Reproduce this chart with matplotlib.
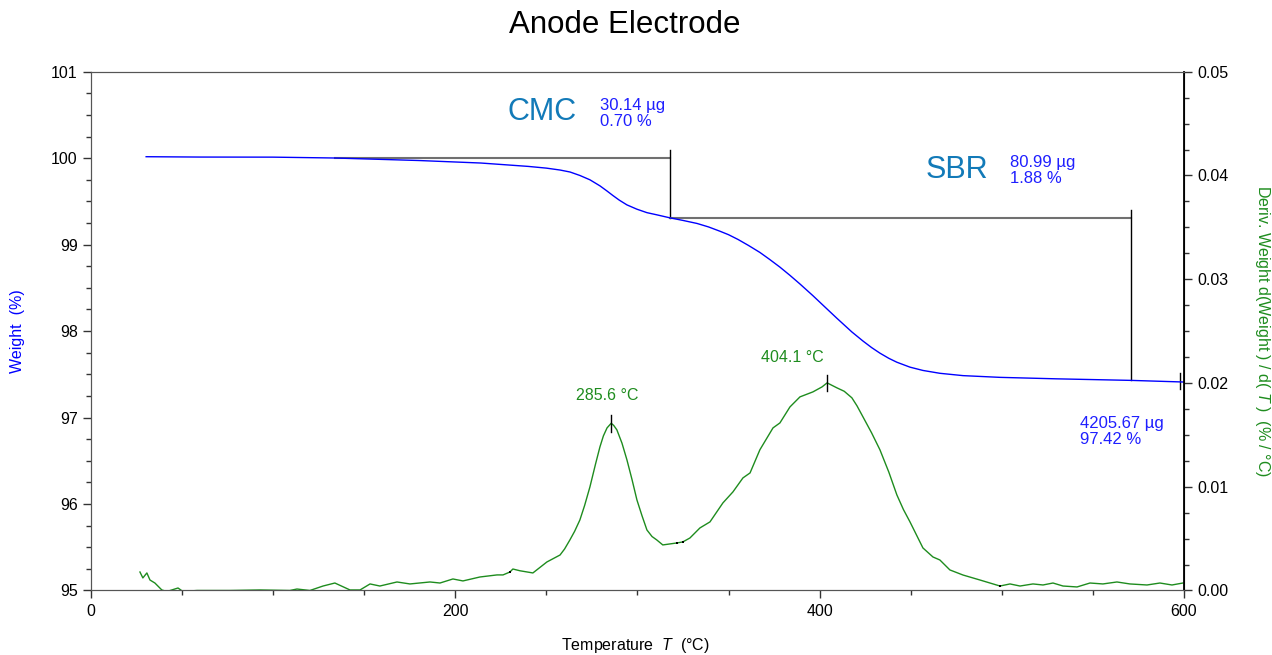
import numpy as np
import matplotlib.pyplot as plt
from matplotlib.ticker import MultipleLocator, FormatStrFormatter

plt.rcParams["font.family"] = ["Liberation Sans", "DejaVu Sans"]
plt.rcParams["mathtext.fontset"] = "custom"
plt.rcParams["mathtext.it"] = "Liberation Sans:italic"
plt.rcParams["mathtext.rm"] = "Liberation Sans"

# =============================================================================
# TGA data

# Weight (%) vs temperature
weight_T = [30.3, 60, 100, 134, 180, 214, 240, 250, 257.5, 263, 268.4, 273.9,
            279.4, 283.3, 286.4, 290, 294.2, 299.7, 305.2, 310.6, 317.6, 325,
            332.7, 339, 345.3, 350, 355.2, 361, 367.2, 372.5, 378.2, 383.7, 389.2,
            396.3, 404.6, 409.5, 417.7, 423.8, 428.5, 433.1, 438, 442.4, 449.6,
            456.7, 466, 478.7, 499, 530, 570.9, 600]
weight = [100.017, 100.013, 100.012, 100.002, 99.973, 99.944, 99.905, 99.885,
          99.863, 99.84, 99.8, 99.75, 99.68, 99.62, 99.57, 99.515, 99.46, 99.41,
          99.37, 99.345, 99.311, 99.28, 99.245, 99.205, 99.155, 99.115, 99.06,
          98.99, 98.91, 98.83, 98.74, 98.645, 98.545, 98.41, 98.245, 98.148,
          97.99, 97.885, 97.81, 97.745, 97.685, 97.64, 97.583, 97.545, 97.512,
          97.485, 97.465, 97.448, 97.43, 97.411]

# Derivative weight (%/°C) vs temperature
deriv_T = [26.9, 28.5, 30.7, 32.4, 35.1, 38.9, 41.7, 47.8, 50.5, 58.2, 76.3, 92.8,
           109.2, 113.1, 120.2, 127.4, 133.9, 142.2, 147.7, 153.2, 158.6, 168.0,
           175.1, 186.1, 191.6, 198.7, 204.2, 213.5, 222.9, 226.2, 230.0, 231.6,
           235.5, 242.6, 250.3, 257.5, 260.0, 262.9, 265.5, 268.4, 271.0, 273.9,
           277.0, 279.4, 281.3, 283.3, 285.6, 287.0, 288.7, 291.5, 294.2, 297.0,
           299.7, 302.5, 305.2, 308.0, 310.6, 313.9, 321.6, 324.9, 328.8, 334.3,
           339.8, 346.9, 352.4, 357.9, 361.8, 367.2, 374.4, 378.2, 383.7, 389.2,
           396.3, 401.3, 404.1, 409.5, 413.5, 417.7, 420.5, 423.8, 428.5, 433.1,
           438.0, 442.4, 446.0, 449.6, 456.7, 462.2, 466.0, 471.5, 478.7, 488.0,
           499.0, 504.5, 510.0, 517.1, 522.6, 528.1, 533.6, 541.3, 548.4, 555.5,
           563.2, 570.3, 579.7, 586.8, 593.4, 599.4]
deriv = [0.00178, 0.00121, 0.00169, 0.00101, 0.00072, 0.00005, -0.0001, 0.00024,
         -0.0001, 0.0, 0.0, 0.00005, 0.0, 0.00014, 0.0, 0.00043, 0.00072, 0.00005,
         0.00005, 0.00063, 0.00043, 0.00082, 0.00063, 0.00082, 0.00072, 0.00111,
         0.00092, 0.0013, 0.0015, 0.0015, 0.00178, 0.00207, 0.0019, 0.00169,
         0.00275, 0.00342, 0.0040, 0.00487, 0.0057, 0.0068, 0.0082, 0.00998,
         0.0122, 0.01384, 0.0149, 0.01567, 0.01612, 0.0159, 0.01548, 0.0142,
         0.0126, 0.0107, 0.00873, 0.0072, 0.00583, 0.0052, 0.00487, 0.00439,
         0.00458, 0.00468, 0.00506, 0.00603, 0.00661, 0.00844, 0.0095, 0.01085,
         0.01133, 0.01356, 0.01567, 0.01615, 0.01769, 0.01866, 0.01914, 0.01962,
         0.02001, 0.01953, 0.0192, 0.01857, 0.0178, 0.01673, 0.0152, 0.01356,
         0.0114, 0.00921, 0.0078, 0.00661, 0.0041, 0.00323, 0.00294, 0.00198,
         0.00149, 0.00101, 0.00043, 0.00063, 0.00043, 0.00063, 0.00053, 0.00072,
         0.00043, 0.00034, 0.00072, 0.00063, 0.00082, 0.00063, 0.00053, 0.00072,
         0.00053, 0.00072]

# Step analysis: start, end temperatures and weight levels
step_names = ["CMC", "SBR"]
step_start_T = [134.0, 317.6]
step_end_T = [317.6, 570.9]
step_start_W = [100.005, 99.311]
step_end_W = [99.311, 97.430]
step_mass = ["30.14 µg", "80.99 µg"]
step_pct = ["0.70 %", "1.88 %"]

residue_T = 597.8
residue_W = 97.42
residue_mass = "4205.67 µg"

# DTG peaks
peak_T = [285.6, 404.1]
peak_D = [0.01612, 0.02001]
peak_label_pos = [(283.2, 0.01876), (384.8, 0.02245)]

# Onset/endset points on the DTG curve
onset_T = [230.0, 321.6, 324.9, 499.0]
onset_D = [0.00178, 0.00458, 0.00468, 0.00043]

BLUE = "#1f1fff"
GREEN = "#1e8c1e"
LABEL_BLUE = "#127ab8"

# =============================================================================
# Plot

fg = plt.figure(figsize=(12.72, 6.55), dpi=100)
ax = fg.add_axes([0.0715, 0.0985, 0.8593, 0.792])
ax2 = ax.twinx()

ax.plot(weight_T, weight, color="blue", lw=1.0, zorder=3)
ax2.plot(deriv_T, deriv, color=GREEN, lw=1.0)

# Step lines
for i in range(len(step_names)):
    ax.plot([step_start_T[i], step_end_T[i]], [step_start_W[i]] * 2,
            color="#707070", lw=1.5, zorder=2)
    ax.plot([step_end_T[i]] * 2, [step_end_W[i], step_start_W[i] + 0.09],
            color="k", lw=1.0, zorder=2)
ax.plot([residue_T] * 2, [residue_W - 0.09, residue_W + 0.1], color="k", lw=1.0)

# Step labels
label_pos = [(247.6, 100.53), (475.4, 99.86)]
value_pos = [(279.4, 100.52), (504.5, 99.86)]
for i in range(len(step_names)):
    ax.text(*label_pos[i], step_names[i], color=LABEL_BLUE, fontsize=22,
            ha="center", va="center")
    ax.text(*value_pos[i], step_mass[i] + "\n" + step_pct[i], color=BLUE,
            fontsize=12, ha="left", va="center", linespacing=1.05)
ax.text(542.9, 96.84, residue_mass + "\n" + f"{residue_W:.2f} %", color=BLUE,
        fontsize=12, ha="left", va="center", linespacing=1.05)

# Peak markers
for t, d, pos in zip(peak_T, peak_D, peak_label_pos):
    ax2.plot([t, t], [d - 0.0008, d + 0.0008], color="k", lw=1.0)
    ax2.text(*pos, f"{t:.1f} °C", color=GREEN, fontsize=11.5,
             ha="center", va="center")
ax2.plot(onset_T, onset_D, "s", color="k", ms=1.5, mew=0)

# Axes
ax.set_xlim(0, 600)
ax.set_ylim(95, 101)
ax2.set_ylim(0, 0.05)

ax.xaxis.set_major_locator(MultipleLocator(200))
ax.xaxis.set_minor_locator(MultipleLocator(50))
ax.yaxis.set_major_locator(MultipleLocator(1))
ax.yaxis.set_minor_locator(MultipleLocator(0.25))
ax2.yaxis.set_major_locator(MultipleLocator(0.01))
ax2.yaxis.set_minor_locator(MultipleLocator(0.0025))
ax2.yaxis.set_major_formatter(FormatStrFormatter("%.2f"))

for a in (ax, ax2):
    a.tick_params(which="major", length=6, width=1, labelsize=11.5,
                  direction="out", color="#333333")
    a.tick_params(which="minor", length=3.5, width=1, direction="out",
                  color="#333333")

for s in ("left", "top", "bottom"):
    ax.spines[s].set_color("#555555")
    ax2.spines[s].set_color("#555555")
ax2.spines["right"].set_color("k")
ax2.spines["right"].set_linewidth(1.3)

ax.set_xlabel("Temperature  $T$  (°C)", fontsize=11.5, va="center")
ax.xaxis.set_label_coords(0.4977, -0.107)
ax.set_ylabel("Weight  (%)", fontsize=11.5, color="blue", va="center")
ax.yaxis.set_label_coords(-0.0668, 0.5)
ax2.set_ylabel("Deriv. Weight d(Weight ) / d( $T$ )  (% / °C)", fontsize=11.5,
               color=GREEN, rotation=270, va="center")
ax2.yaxis.set_label_coords(1.0714, 0.5)

ax.set_title("Anode Electrode", fontsize=22.5, pad=28, x=0.488)

fg.savefig("out.png", dpi=100)
